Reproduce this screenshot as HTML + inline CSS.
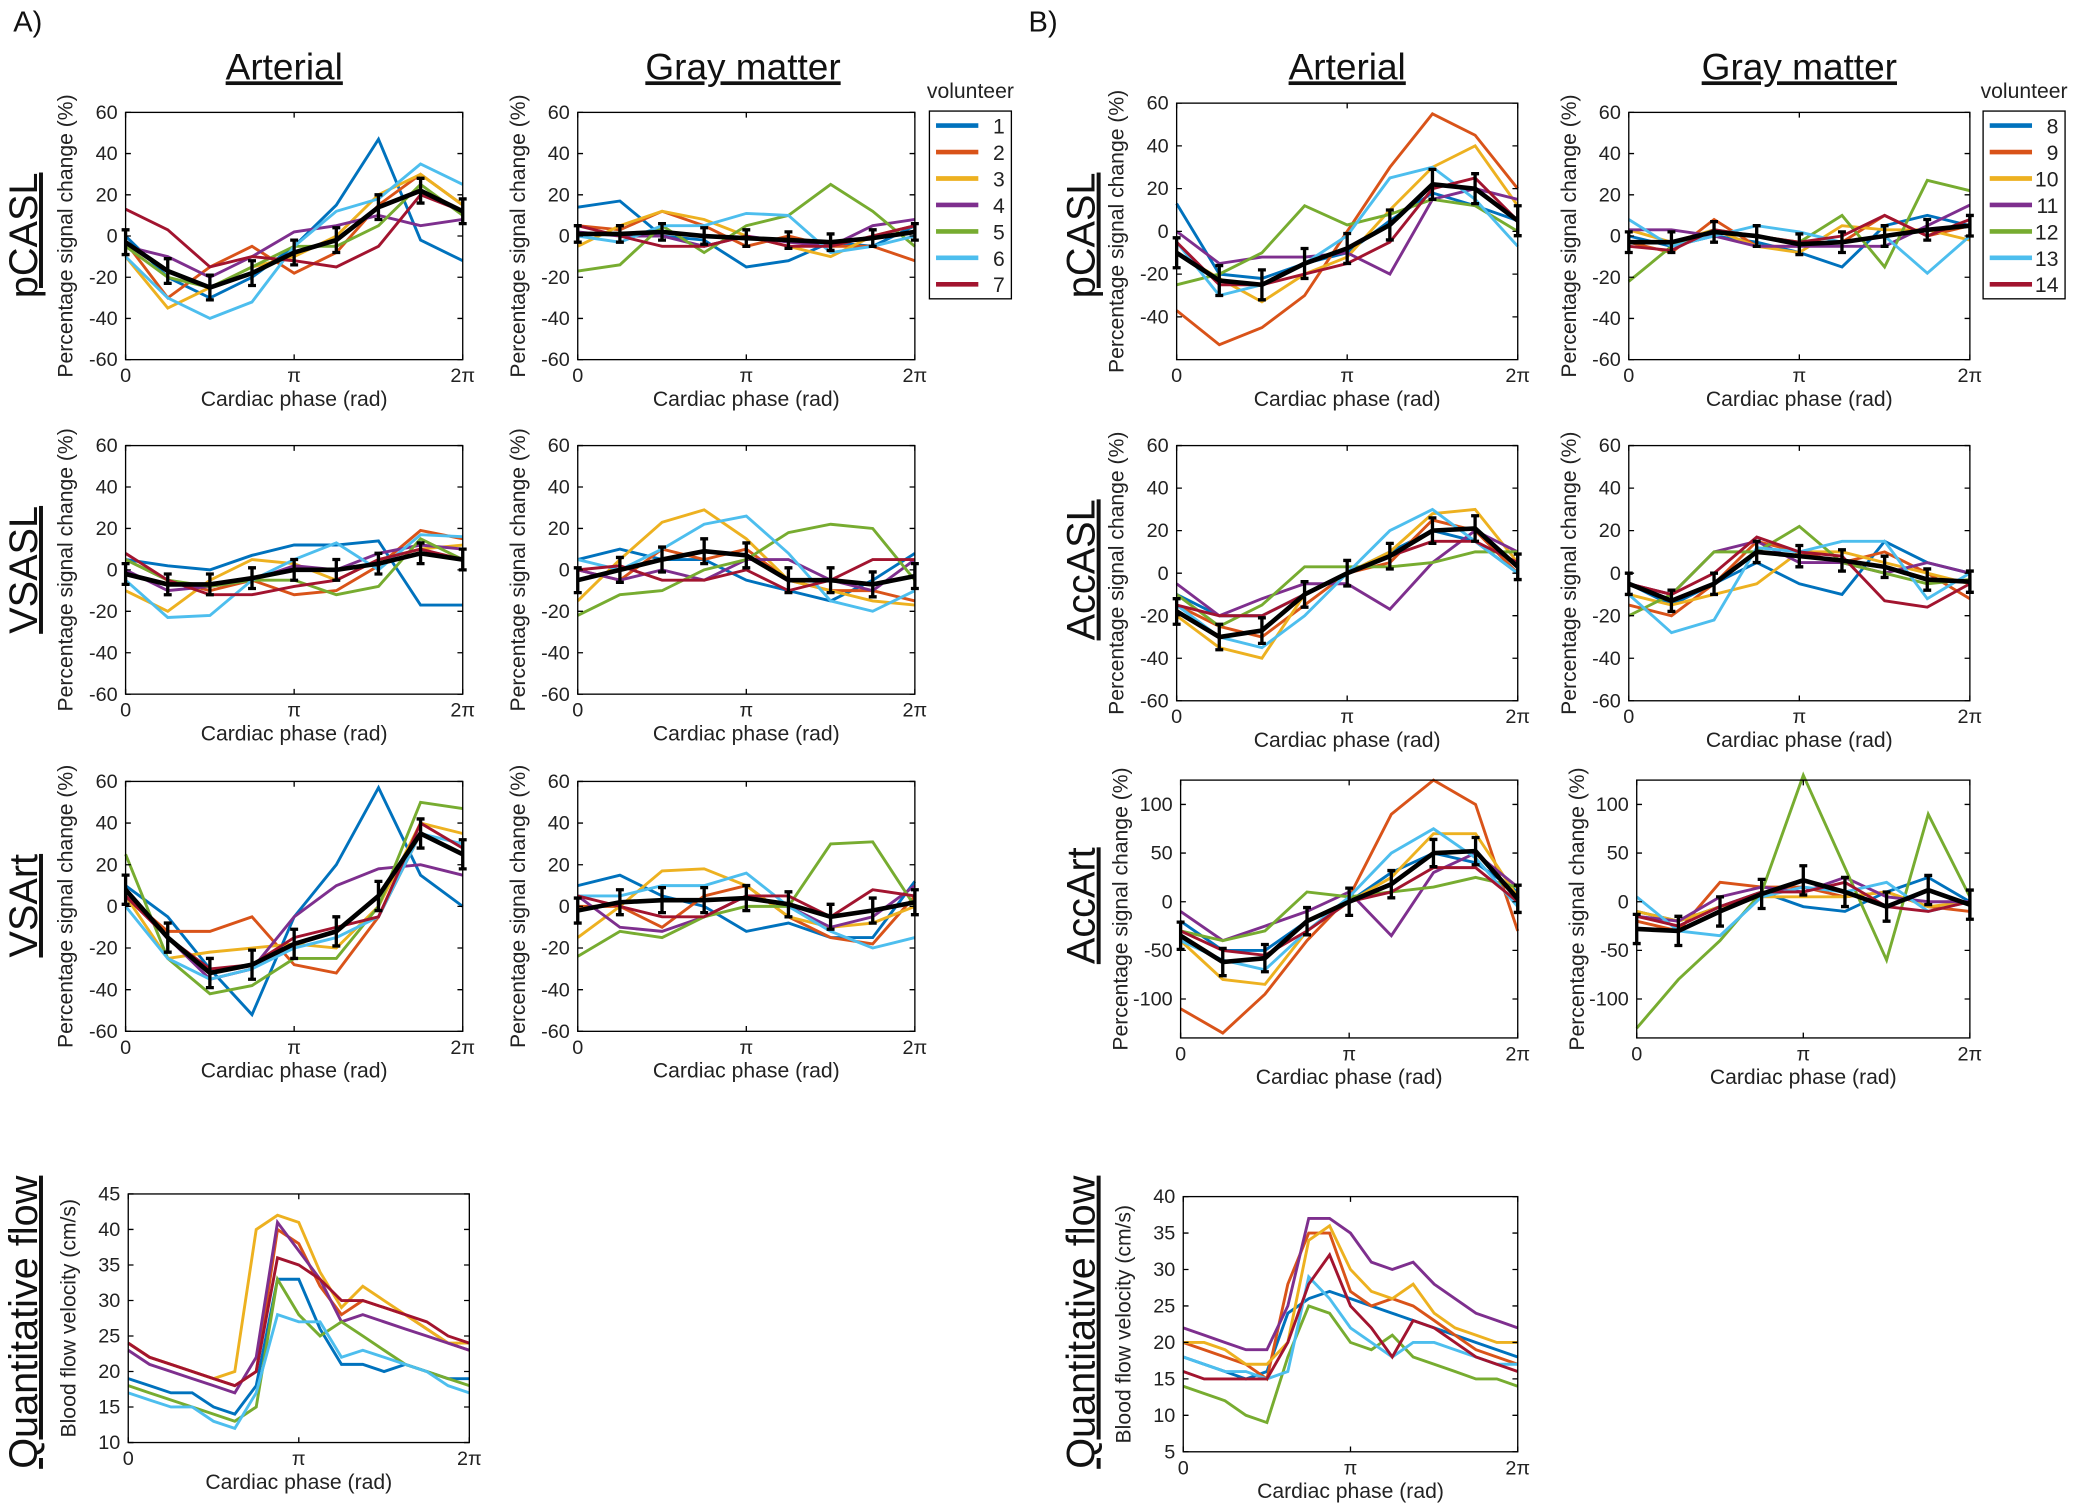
<!DOCTYPE html>
<html><head><meta charset="utf-8"><style>
html,body{margin:0;padding:0;background:#fff;}
svg{display:block;font-family:"Liberation Sans",sans-serif;}
</style></head><body>
<svg id="fig" width="2073" height="1506" viewBox="0 0 1568 1139" preserveAspectRatio="none" xmlns="http://www.w3.org/2000/svg">
<rect width="1568" height="1139" fill="#fff"/>
</svg>
<script>
const colorsA = ["#0072BD","#D95319","#EDB120","#7E2F8E","#77AC30","#4DBEEE","#A2142F"];
const volA = ["1","2","3","4","5","6","7"];
const volB = ["8","9","10","11","12","13","14"];
// Panel A data
const aPcaslArt = [[0,-20,-30,-20,-5,15,47,-2,-12],[-3,-30,-15,-5,-18,-8,15,30,15],[-10,-35,-25,-15,-10,0,20,30,15],[-5,-10,-20,-10,2,5,10,5,8],[-5,-20,-25,-15,-5,-5,5,25,10],[-10,-30,-40,-32,-5,12,18,35,25],[13,3,-15,-10,-12,-15,-5,20,12]];
const aPcaslArtMean = [-3,-17,-25,-18,-8,-2,14,22,12];
const aPcaslGm = [[14,17,0,-2,-15,-12,-3,-5,5],[5,3,12,5,-5,0,-5,-5,-12],[-5,5,12,8,0,-5,-10,0,5],[2,0,0,-5,0,-3,-5,5,8],[-17,-14,5,-8,5,10,25,12,-5],[0,-3,5,5,11,10,-8,-5,0],[5,0,-5,-5,0,-5,-5,0,5]];
const aPcaslGmMean = [1,1,2,0,-1,-2,-3,-1,2];
const aVsaslArt = [[5,2,0,7,12,12,14,-17,-17],[5,-5,-10,-5,-12,-10,2,19,15],[-10,-20,-5,5,3,-5,5,10,12],[0,-10,-8,-5,2,0,8,12,10],[5,-5,-8,-5,-5,-12,-8,15,5],[-5,-23,-22,-5,5,13,0,17,16],[8,-5,-12,-12,-8,-5,5,10,5]];
const aVsaslArtMean = [-2,-7,-7,-4,0,0,3,8,5];
const aVsaslGm = [[5,10,5,5,-5,-10,-15,-5,8],[0,-5,10,5,10,-5,-10,-10,-15],[-15,5,23,29,15,-5,-10,-15,-17],[0,-5,0,-5,5,5,-5,-10,5],[-22,-12,-10,0,5,18,22,20,-5],[5,0,10,22,26,8,-15,-20,-10],[0,2,-5,-5,0,-10,-5,5,5]];
const aVsaslGmMean = [-5,0,5,9,7,-5,-5,-7,-3];
const aVsartArt = [[10,-5,-30,-52,-5,20,57,15,0],[5,-12,-12,-5,-28,-32,-5,35,25],[5,-25,-22,-20,-18,-20,0,40,35],[5,-15,-35,-30,-5,10,18,20,15],[25,-25,-42,-38,-25,-25,0,50,47],[0,-25,-35,-30,-20,-15,-5,35,30],[5,-15,-30,-28,-15,-10,-5,40,28]];
const aVsartArtMean = [8,-15,-32,-28,-18,-12,5,35,25];
const aVsartGm = [[10,15,5,0,-12,-8,-15,-15,12],[0,0,-10,5,10,-5,-15,-18,5],[-15,0,17,18,10,-5,-10,-8,0],[5,-10,-12,-5,5,0,-10,-5,10],[-24,-12,-15,-5,0,0,30,31,0],[5,5,10,10,16,0,-12,-20,-15],[5,0,-5,-5,5,5,-5,8,5]];
const aVsartGmMean = [-2,2,3,3,4,1,-5,-2,2];
const aFlow = [[19,18,17,17,15,14,18,33,33,26,21,21,20,21,20,19,19],[24,22,21,20,19,18,20,40,38,32,28,30,29,28,26,24,23],[24,22,21,20,19,20,40,42,41,34,29,32,30,28,26,24,24],[23,21,20,19,18,17,22,41,37,33,27,28,27,26,25,24,23],[18,17,16,15,14,13,15,33,28,25,27,25,23,21,20,19,18],[17,16,15,15,13,12,17,28,27,27,22,23,22,21,20,18,17],[24,22,21,20,19,18,20,36,35,33,30,30,29,28,27,25,24]];
// Panel B data
const bPcaslArt = [[13,-20,-22,-15,-10,5,18,12,5],[-37,-53,-45,-30,0,30,55,45,20],[-10,-22,-33,-20,-12,10,30,40,12],[0,-15,-12,-12,-10,-20,15,20,15],[-25,-20,-10,12,3,8,15,12,0],[-5,-30,-25,-15,-2,25,30,15,-7],[-5,-25,-25,-20,-15,-5,20,25,5]];
const bPcaslArtMean = [-10,-23,-25,-15,-8,3,22,20,5];
const bPcaslGm = [[0,-5,0,-3,-8,-15,5,10,5],[-3,-8,8,-5,-5,-3,10,0,5],[3,-3,3,-5,-8,5,3,3,-2],[3,3,0,-5,-5,-5,-5,5,15],[-22,-5,3,0,-3,10,-15,27,22],[8,-5,0,5,2,-3,0,-18,0],[-5,-7,3,0,-3,0,10,0,8]];
const bPcaslGmMean = [-3,-3,2,0,-4,-3,0,3,5];
const bAccaslArt = [[-10,-20,-20,-10,0,10,20,15,0],[-15,-25,-30,-15,0,5,25,20,0],[-20,-35,-40,-10,0,10,28,30,5],[-5,-20,-12,-5,-5,-17,5,20,10],[-10,-25,-15,3,3,3,5,10,10],[-15,-30,-35,-20,0,20,30,15,0],[-15,-20,-20,-10,0,8,15,15,5]];
const bAccaslArtMean = [-18,-30,-27,-10,0,8,20,21,3];
const bAccaslGm = [[-5,-15,-5,5,-5,-10,15,5,0],[-15,-20,-5,15,10,5,10,0,-12],[-10,-15,-10,-5,10,10,5,0,-5],[-5,-10,10,15,5,5,0,5,0],[-20,-10,10,10,22,5,0,-5,-3],[-10,-28,-22,12,10,15,15,-12,0],[-5,-10,0,17,10,8,-13,-16,-5]];
const bAccaslGmMean = [-5,-13,-5,10,8,6,3,-3,-4];
const bAccartArt = [[-20,-50,-50,-20,0,30,50,40,10],[-110,-135,-95,-40,5,90,125,100,-30],[-40,-80,-85,-30,0,25,70,70,5],[-10,-40,-25,-10,10,-35,30,50,15],[-30,-40,-30,10,5,10,15,25,15],[-40,-60,-70,-30,5,50,75,45,-5],[-30,-50,-55,-30,0,10,35,35,0]];
const bAccartArtMean = [-35,-62,-58,-20,0,18,50,52,3];
const bAccartGm = [[-10,-20,-5,10,-5,-10,10,25,0],[-20,-30,20,15,15,5,10,-5,-10],[-10,-20,-5,5,5,5,10,-5,0],[-15,-20,5,15,10,25,5,0,0],[-130,-80,-40,10,130,35,-60,90,5],[5,-30,-35,5,15,10,20,-10,0],[-15,-25,-5,10,10,20,-5,-10,0]];
const bAccartGmMean = [-28,-30,-10,8,22,10,-5,12,-3];
const bFlow = [[18,17,16,15,16,24,26,27,26,25,24,23,22,21,20,19,18],[20,19,18,17,15,28,35,35,27,25,26,25,23,21,19,18,17],[20,20,19,17,17,20,34,36,30,27,26,28,24,22,21,20,20],[22,21,20,19,19,25,37,37,35,31,30,31,28,26,24,23,22],[14,13,12,10,9,18,25,24,20,19,21,18,17,16,15,15,14],[18,17,16,16,15,16,29,26,22,20,18,20,20,19,18,17,17],[16,15,15,15,15,20,28,32,25,22,18,23,22,20,18,17,16]];
const ticksPct = [-60,-40,-20,0,20,40,60];
const ticksPctB = [-40,-20,0,20,40,60];
const ticksAcc = [-100,-50,0,50,100];
const ticksFlowA = [10,15,20,25,30,35,40,45];
const ticksFlowB = [5,10,15,20,25,30,35,40];
const xTickLabels = ["0","π","2π"];

const NS="http://www.w3.org/2000/svg";
const svg=document.getElementById('fig');
function el(tag,attrs,parent,text){const e=document.createElementNS(NS,tag);for(const k in attrs)e.setAttribute(k,attrs[k]);if(text!==undefined)e.textContent=text;(parent||svg).appendChild(e);return e;}

function panel(name,x0,x1,yT,yB,ymin,ymax,ticks,series,mean,err,ylab){
  const g=el('g',{});
  
  
  const sy=v=>yB-(v-ymin)/(ymax-ymin)*(yB-yT);
  const sx=(i,n)=>x0+i/(n-1)*(x1-x0);
  // series
  series.forEach((s,si)=>{
    const pts=s.map((v,i)=>sx(i,s.length).toFixed(1)+','+sy(v).toFixed(1)).join(' ');
    const p=el('polyline',{points:pts,fill:'none',stroke:colorsA[si],'stroke-width':2.2},g);
    
    
  });
  if(mean){
    const pts=mean.map((v,i)=>sx(i,mean.length).toFixed(1)+','+sy(v).toFixed(1)).join(' ');
    const m=el('polyline',{points:pts,fill:'none',stroke:'#000','stroke-width':3.5},g);
    
    
    mean.forEach((v,i)=>{
      const x=sx(i,mean.length);
      const eb=el('path',{d:`M${x},${sy(v-err)}V${sy(v+err)}M${x-3},${sy(v-err)}h6M${x-3},${sy(v+err)}h6`,stroke:'#000','stroke-width':2.5,fill:'none'},g);
      
      
    });
  }
  // box
  const box=el('rect',{x:x0,y:yT,width:x1-x0,height:yB-yT,fill:'none',stroke:'#000','stroke-width':1},g);
  
  
  ticks.forEach(t=>{
    const y=sy(t);
    el('path',{d:`M${x0},${y}h4M${x1},${y}h-4`,stroke:'#000','stroke-width':1},g);
    const tl=el('text',{x:x0-6,y:y+5,'text-anchor':'end','font-size':15,fill:'#222'},g,String(t));
    
    
  });
  xTickLabels.forEach((t,i)=>{
    const x=x0+i/2*(x1-x0);
    el('path',{d:`M${x},${yB}v-4M${x},${yT}v4`,stroke:'#000','stroke-width':1},g);
    const tl=el('text',{x:x,y:yB+17,'text-anchor':'middle','font-size':15,fill:'#222'},g,t);
    
    
  });
  const xl=el('text',{x:(x0+x1)/2,y:yB+35,'text-anchor':'middle','font-size':16,fill:'#222'},g,'Cardiac phase (rad)');
  
  
  const yc=(yT+yB)/2, lx=x0-40;
  const yl=el('text',{x:lx,y:yc,'text-anchor':'middle','font-size':16,fill:'#222',transform:`rotate(-90 ${lx} ${yc})`},g,ylab||'Percentage signal change (%)');
  
  
}

// Panel A
panel('a-pcasl-arterial',95,350,85,272,-60,60,ticksPct,aPcaslArt,aPcaslArtMean,6);
panel('a-pcasl-gray',437,692,85,272,-60,60,ticksPct,aPcaslGm,aPcaslGmMean,4);
panel('a-vsasl-arterial',95,350,337,525,-60,60,ticksPct,aVsaslArt,aVsaslArtMean,5);
panel('a-vsasl-gray',437,692,337,525,-60,60,ticksPct,aVsaslGm,aVsaslGmMean,6);
panel('a-vsart-arterial',95,350,591,780,-60,60,ticksPct,aVsartArt,aVsartArtMean,7);
panel('a-vsart-gray',437,692,591,780,-60,60,ticksPct,aVsartGm,aVsartGmMean,6);
panel('a-flow',97,355,903,1091,10,45,ticksFlowA,aFlow,null,0,'Blood flow velocity (cm/s)');
// Panel B
panel('b-pcasl-arterial',890,1148,78,272,-60,60,ticksPctB,bPcaslArt,bPcaslArtMean,7);
panel('b-pcasl-gray',1232,1490,85,272,-60,60,ticksPct,bPcaslGm,bPcaslGmMean,5);
panel('b-accasl-arterial',890,1148,337,530,-60,60,ticksPct,bAccaslArt,bAccaslArtMean,6);
panel('b-accasl-gray',1232,1490,337,530,-60,60,ticksPct,bAccaslGm,bAccaslGmMean,5);
panel('b-accart-arterial',893,1148,590,785,-140,125,ticksAcc,bAccartArt,bAccartArtMean,14);
panel('b-accart-gray',1238,1490,590,785,-140,125,ticksAcc,bAccartGm,bAccartGmMean,15);
panel('b-flow',895,1148,905,1098,5,40,ticksFlowB,bFlow,null,0,'Blood flow velocity (cm/s)');

// Titles and labels
function txt(name,x,y,s,size,extra){const t=el('text',Object.assign({x:x,y:y,'font-size':size,fill:'#111'},extra||{}),svg,s);return t;}
txt('panel-a-label',10,24,'A)',22);
txt('panel-b-label',778,24,'B)',22);
txt('a-arterial-title',215,60,'Arterial',28,{'text-anchor':'middle','text-decoration':'underline'});
txt('a-gray-title',562,60,'Gray matter',28,{'text-anchor':'middle','text-decoration':'underline'});
txt('b-arterial-title',1019,60,'Arterial',28,{'text-anchor':'middle','text-decoration':'underline'});
txt('b-gray-title',1361,60,'Gray matter',28,{'text-anchor':'middle','text-decoration':'underline'});
function rowLabel(name,x,yc,s){txt(name,x,yc,s,30,{'text-anchor':'middle','text-decoration':'underline',transform:`rotate(-90 ${x} ${yc})`});}
rowLabel('a-row-pcasl',28,178,'pCASL');
rowLabel('a-row-vsasl',28,431,'VSASL');
rowLabel('a-row-vsart',28,685,'VSArt');
rowLabel('a-row-flow',28,1000,'Quantitative flow');
rowLabel('b-row-pcasl',828,178,'pCASL');
rowLabel('b-row-accasl',828,431,'AccASL');
rowLabel('b-row-accart',828,685,'AccArt');
rowLabel('b-row-flow',828,1000,'Quantitative flow');

function legend(name,x,y,labels){
  const g=el('g',{});
  
  
  const t=el('text',{x:x+31,y:y-10,'text-anchor':'middle','font-size':16,fill:'#222'},g,'volunteer');
  
  
  el('rect',{x:x,y:y,width:62,height:142,fill:'#fff',stroke:'#000','stroke-width':1},g);
  labels.forEach((l,i)=>{
    const yy=y+11+i*20;
    const e=el('g',{},g);
    
    
    el('line',{x1:x+5,x2:x+37,y1:yy,y2:yy,stroke:colorsA[i],'stroke-width':3.5},e);
    el('text',{x:x+57,y:yy+6,'text-anchor':'end','font-size':16,fill:'#222'},e,l);
  });
}
legend('legend-a',703,84,volA);
legend('legend-b',1500,84,volB);
</script>
</body></html>
